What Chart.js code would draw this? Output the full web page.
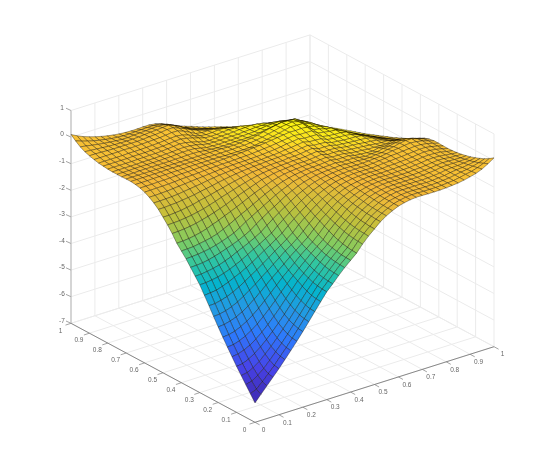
<!DOCTYPE html>
<html><head><meta charset="utf-8">
<script src="https://cdn.jsdelivr.net/npm/chart.js@4"></script>
<style>html,body{margin:0;padding:0;background:#fff}canvas{display:block}</style>
</head><body><canvas id="c" width="545" height="474"></canvas>
<script>
// Hand-estimated readings from the picture (silhouettes, mesh spacing, colour bands).
// The surface looks mirror-symmetric in x and y, so only y<=x is listed: row i = x index, entry j = y index.
// The part behind the ridge cannot be seen, so those entries are only rough guesses.
const axisTicks=[0,0.1,0.2,0.3,0.4,0.5,0.6,0.7,0.8,0.9,1];
const axisLabels=["0","0.1","0.2","0.3","0.4","0.5","0.6","0.7","0.8","0.9","1"];
const zTicks=[1,0,-1,-2,-3,-4,-5,-6,-7];
const gridCells=40;
const zRows=[
[-6.27],
[-6.02,-5.92],
[-5.77,-5.71,-5.56],
[-5.52,-5.48,-5.37,-5.21],
[-5.27,-5.24,-5.14,-5,-4.82],
[-5,-4.97,-4.89,-4.78,-4.62,-4.43],
[-4.73,-4.71,-4.64,-4.53,-4.39,-4.22,-4.01],
[-4.45,-4.43,-4.37,-4.27,-4.14,-3.98,-3.79,-3.58],
[-4.16,-4.14,-4.08,-4,-3.88,-3.73,-3.55,-3.36,-3.16],
[-3.86,-3.84,-3.79,-3.71,-3.6,-3.46,-3.3,-3.14,-2.96,-2.79],
[-3.55,-3.54,-3.49,-3.42,-3.32,-3.2,-3.06,-2.91,-2.77,-2.61,-2.45],
[-3.25,-3.23,-3.2,-3.13,-3.04,-2.93,-2.83,-2.71,-2.58,-2.43,-2.28,-2.14],
[-2.95,-2.94,-2.91,-2.87,-2.8,-2.72,-2.62,-2.51,-2.38,-2.25,-2.13,-1.99,-1.86],
[-2.72,-2.71,-2.68,-2.64,-2.58,-2.5,-2.41,-2.3,-2.2,-2.09,-1.97,-1.84,-1.66,-1.49],
[-2.48,-2.47,-2.45,-2.41,-2.35,-2.28,-2.2,-2.12,-2.03,-1.92,-1.8,-1.63,-1.48,-1.33,-1.19],
[-2.25,-2.24,-2.22,-2.19,-2.15,-2.09,-2.02,-1.94,-1.85,-1.72,-1.57,-1.44,-1.31,-1.18,-1.05,-0.92],
[-2.05,-2.04,-2.03,-1.99,-1.95,-1.9,-1.83,-1.73,-1.62,-1.5,-1.38,-1.27,-1.15,-1.03,-0.91,-0.81,-0.72],
[-1.85,-1.84,-1.82,-1.78,-1.73,-1.66,-1.57,-1.49,-1.39,-1.3,-1.2,-1.1,-0.99,-0.89,-0.8,-0.72,-0.64,-0.58],
[-1.58,-1.57,-1.55,-1.52,-1.48,-1.42,-1.36,-1.29,-1.21,-1.13,-1.03,-0.94,-0.86,-0.78,-0.7,-0.62,-0.58,-0.53,-0.5],
[-1.35,-1.34,-1.33,-1.3,-1.27,-1.22,-1.17,-1.1,-1.03,-0.95,-0.88,-0.81,-0.74,-0.68,-0.62,-0.57,-0.53,-0.5,-0.48,-0.46],
[-1.15,-1.15,-1.13,-1.11,-1.07,-1.03,-0.97,-0.92,-0.87,-0.81,-0.76,-0.7,-0.65,-0.6,-0.56,-0.52,-0.5,-0.48,-0.46,-0.45,-0.45],
[-0.95,-0.95,-0.93,-0.92,-0.89,-0.86,-0.83,-0.78,-0.74,-0.7,-0.65,-0.61,-0.57,-0.54,-0.51,-0.49,-0.47,-0.46,-0.44,-0.43,-0.42,-0.41],
[-0.8,-0.8,-0.79,-0.78,-0.76,-0.73,-0.7,-0.67,-0.64,-0.6,-0.57,-0.54,-0.52,-0.5,-0.48,-0.47,-0.46,-0.45,-0.45,-0.43,-0.42,-0.4,-0.37],
[-0.68,-0.68,-0.67,-0.66,-0.64,-0.62,-0.6,-0.58,-0.56,-0.54,-0.52,-0.5,-0.48,-0.47,-0.46,-0.45,-0.45,-0.44,-0.43,-0.42,-0.4,-0.38,-0.35,-0.31],
[-0.58,-0.58,-0.57,-0.57,-0.56,-0.55,-0.53,-0.52,-0.51,-0.5,-0.48,-0.47,-0.46,-0.45,-0.45,-0.44,-0.43,-0.42,-0.41,-0.39,-0.37,-0.35,-0.32,-0.29,-0.26],
[-0.52,-0.52,-0.52,-0.51,-0.51,-0.5,-0.49,-0.48,-0.48,-0.47,-0.46,-0.45,-0.45,-0.44,-0.43,-0.42,-0.41,-0.4,-0.38,-0.36,-0.34,-0.32,-0.29,-0.26,-0.23,-0.2],
[-0.48,-0.48,-0.48,-0.47,-0.47,-0.47,-0.46,-0.46,-0.46,-0.45,-0.45,-0.45,-0.45,-0.45,-0.45,-0.46,-0.46,-0.46,-0.46,-0.45,-0.43,-0.39,-0.35,-0.31,-0.26,-0.21,-0.15],
[-0.46,-0.46,-0.46,-0.46,-0.46,-0.46,-0.45,-0.45,-0.45,-0.45,-0.45,-0.45,-0.45,-0.46,-0.46,-0.46,-0.46,-0.46,-0.45,-0.45,-0.43,-0.4,-0.36,-0.31,-0.26,-0.2,-0.17,-0.14],
[-0.46,-0.46,-0.46,-0.46,-0.46,-0.46,-0.46,-0.46,-0.46,-0.46,-0.46,-0.46,-0.46,-0.46,-0.46,-0.46,-0.46,-0.47,-0.47,-0.46,-0.44,-0.42,-0.38,-0.32,-0.27,-0.22,-0.18,-0.2,-0.22],
[-0.47,-0.47,-0.47,-0.46,-0.46,-0.46,-0.46,-0.46,-0.46,-0.45,-0.45,-0.44,-0.44,-0.45,-0.48,-0.5,-0.52,-0.52,-0.52,-0.5,-0.51,-0.5,-0.48,-0.46,-0.42,-0.39,-0.36,-0.33,-0.34,-0.35],
[-0.47,-0.47,-0.47,-0.46,-0.46,-0.46,-0.46,-0.46,-0.45,-0.45,-0.43,-0.42,-0.42,-0.43,-0.48,-0.53,-0.54,-0.55,-0.54,-0.54,-0.53,-0.52,-0.51,-0.5,-0.46,-0.43,-0.42,-0.42,-0.45,-0.49,-0.55],
[-0.47,-0.47,-0.47,-0.47,-0.47,-0.46,-0.46,-0.46,-0.45,-0.44,-0.43,-0.41,-0.4,-0.42,-0.45,-0.51,-0.56,-0.56,-0.56,-0.55,-0.55,-0.55,-0.53,-0.52,-0.5,-0.5,-0.5,-0.52,-0.55,-0.6,-0.66,-0.75],
[-0.46,-0.46,-0.46,-0.46,-0.46,-0.45,-0.45,-0.44,-0.44,-0.43,-0.41,-0.39,-0.37,-0.39,-0.44,-0.5,-0.57,-0.59,-0.58,-0.57,-0.57,-0.56,-0.54,-0.53,-0.52,-0.54,-0.58,-0.64,-0.7,-0.76,-0.82,-0.9,-1],
[-0.44,-0.44,-0.44,-0.44,-0.44,-0.43,-0.43,-0.43,-0.42,-0.41,-0.4,-0.38,-0.36,-0.35,-0.39,-0.45,-0.52,-0.59,-0.6,-0.6,-0.58,-0.57,-0.57,-0.57,-0.62,-0.68,-0.74,-0.8,-0.85,-0.9,-0.96,-1.02,-1.1,-1.2],
[-0.42,-0.42,-0.42,-0.42,-0.42,-0.41,-0.41,-0.41,-0.4,-0.39,-0.38,-0.36,-0.34,-0.33,-0.36,-0.43,-0.53,-0.6,-0.63,-0.62,-0.6,-0.6,-0.65,-0.69,-0.76,-0.82,-0.87,-0.93,-0.98,-1.03,-1.08,-1.15,-1.23,-1.3,-1.37],
[-0.38,-0.38,-0.38,-0.38,-0.38,-0.37,-0.38,-0.38,-0.37,-0.36,-0.35,-0.34,-0.32,-0.29,-0.3,-0.38,-0.49,-0.61,-0.65,-0.65,-0.66,-0.7,-0.76,-0.82,-0.89,-0.95,-1.02,-1.08,-1.14,-1.2,-1.26,-1.33,-1.41,-1.48,-1.55,-1.6],
[-0.33,-0.33,-0.34,-0.35,-0.36,-0.36,-0.36,-0.36,-0.36,-0.35,-0.33,-0.32,-0.3,-0.27,-0.27,-0.36,-0.45,-0.56,-0.65,-0.72,-0.76,-0.8,-0.85,-0.91,-0.97,-1.04,-1.1,-1.17,-1.25,-1.32,-1.39,-1.45,-1.52,-1.58,-1.65,-1.73,-1.8],
[-0.27,-0.29,-0.31,-0.33,-0.35,-0.36,-0.37,-0.37,-0.37,-0.36,-0.34,-0.32,-0.31,-0.29,-0.27,-0.36,-0.47,-0.6,-0.72,-0.8,-0.85,-0.9,-0.96,-1.03,-1.08,-1.15,-1.22,-1.29,-1.36,-1.43,-1.5,-1.56,-1.63,-1.7,-1.76,-1.84,-1.92,-1.97],
[-0.18,-0.22,-0.26,-0.3,-0.33,-0.36,-0.38,-0.4,-0.4,-0.38,-0.37,-0.36,-0.34,-0.33,-0.35,-0.42,-0.52,-0.65,-0.76,-0.85,-0.92,-1,-1.07,-1.13,-1.2,-1.27,-1.34,-1.4,-1.47,-1.53,-1.6,-1.66,-1.72,-1.78,-1.85,-1.92,-1.98,-2.05,-2.1],
[-0.05,-0.13,-0.2,-0.26,-0.31,-0.35,-0.39,-0.41,-0.43,-0.43,-0.42,-0.41,-0.4,-0.4,-0.42,-0.5,-0.6,-0.72,-0.84,-0.92,-1,-1.08,-1.15,-1.22,-1.29,-1.36,-1.43,-1.5,-1.57,-1.63,-1.69,-1.75,-1.81,-1.87,-1.93,-2,-2.06,-2.13,-2.2,-2.26],
[0.1,-0.02,-0.12,-0.2,-0.27,-0.33,-0.38,-0.42,-0.45,-0.47,-0.48,-0.48,-0.47,-0.47,-0.5,-0.56,-0.65,-0.75,-0.85,-0.94,-1.02,-1.1,-1.18,-1.25,-1.32,-1.39,-1.46,-1.53,-1.6,-1.66,-1.72,-1.78,-1.84,-1.9,-1.96,-2.03,-2.1,-2.17,-2.24,-2.3,-2.36]
];
const colorRows=[
[2],
[3,4],
[5,6,7],
[8,9,10,12],
[11,11,12,14,16],
[14,14,15,16,18,21],
[17,17,18,19,20,23,26],
[21,21,22,23,25,27,30,33],
[25,25,26,27,29,31,33,36,38],
[29,29,30,31,32,34,36,39,41,44],
[33,33,34,35,36,38,40,42,44,47,49],
[37,37,38,38,40,41,43,45,47,50,52,55],
[41,41,42,42,43,45,47,49,51,53,55,58,60],
[45,45,46,46,47,49,50,52,54,56,59,61,63,66],
[49,49,50,50,51,52,54,55,57,60,62,64,66,68,70],
[53,53,54,54,55,56,58,59,61,63,65,67,69,70,72,73],
[57,57,57,58,59,60,61,63,65,66,68,69,71,72,74,75,76],
[61,61,61,62,63,64,65,66,68,70,71,72,73,74,76,77,78,79],
[65,65,65,66,66,67,68,69,70,71,72,73,74,75,77,78,79,80,80],
[68,68,68,69,69,70,71,71,72,73,74,75,76,77,78,79,80,80,81,81],
[71,71,71,71,72,72,73,73,74,75,75,76,77,78,79,79,80,80,81,81,82],
[73,73,73,73,74,74,74,75,76,76,77,78,78,79,80,80,81,81,82,83,84,85],
[75,75,75,75,75,76,76,77,77,78,78,79,79,80,80,81,81,82,83,84,85,87,90],
[77,77,77,77,77,78,78,78,79,79,80,80,80,81,81,81,82,83,84,85,86,88,90,92],
[79,79,79,79,79,79,79,80,80,80,80,81,81,81,82,82,83,84,85,87,88,90,92,94,95],
[80,80,80,80,80,80,80,80,80,81,81,81,82,82,83,84,85,86,87,88,90,91,93,95,96,97],
[80,80,80,80,80,80,80,81,81,81,81,81,82,82,83,84,85,86,87,89,90,92,93,94,95,97,98],
[80,80,80,80,80,81,81,81,81,81,81,82,82,82,83,84,85,86,88,89,91,92,94,95,96,97,98,99],
[80,80,81,81,81,81,81,81,81,81,81,82,82,83,84,85,87,88,89,91,92,93,95,96,97,98,98,99,100],
[81,81,81,81,81,81,81,81,81,81,82,82,83,83,84,86,87,89,90,92,93,94,95,96,97,98,99,99,100,100],
[81,81,81,81,81,81,81,81,81,82,82,82,83,83,85,86,88,89,91,92,93,94,95,96,97,98,98,99,100,100,100],
[82,82,82,82,82,82,82,82,82,82,82,82,83,84,85,87,88,90,91,92,94,95,96,97,97,98,98,99,99,100,100,100],
[82,82,82,82,82,82,82,82,82,82,82,83,83,84,85,86,88,89,91,92,94,95,96,96,97,98,98,99,99,100,100,100,100],
[82,82,82,82,82,82,82,82,82,82,83,83,83,84,85,86,87,89,90,92,93,94,95,96,97,97,98,98,99,99,100,100,100,100],
[83,83,83,83,83,83,83,83,83,83,83,83,84,84,85,86,87,88,90,91,93,94,95,96,96,97,98,98,99,99,100,100,100,100,100],
[83,83,83,83,83,83,83,83,83,83,83,84,84,84,85,85,86,87,88,90,91,92,94,95,96,96,97,98,98,99,99,100,100,100,100,100],
[83,83,83,83,83,83,83,83,83,83,83,84,84,84,85,85,86,87,88,89,91,92,93,94,95,96,96,97,97,98,98,99,99,100,100,100,100],
[83,83,83,83,83,83,83,83,83,83,83,83,84,84,84,85,85,86,87,88,89,90,92,93,94,95,96,96,97,97,98,98,99,99,100,100,100,100],
[83,83,83,83,83,83,83,83,83,83,83,83,83,84,84,84,85,85,86,87,88,89,90,91,93,94,95,96,96,97,97,98,98,99,99,100,100,100,100],
[83,83,83,83,83,83,83,83,83,83,83,83,83,83,84,84,84,85,85,86,87,88,89,90,91,92,93,94,95,96,96,97,97,98,98,99,99,100,100,100],
[83,83,83,83,83,83,83,83,83,83,83,83,83,83,83,84,84,84,85,85,86,87,88,89,90,91,92,93,94,95,96,96,97,97,98,98,99,99,100,100,100]
];
const palette=[[62,38,168],[71,67,233],[45,122,252],[38,150,230],[5,180,205],[50,198,160],[125,205,100],[190,192,60],[245,185,55],[252,208,45],[250,250,15]];

// View: where the three axes of the box land on the canvas scales.
const view={ox:255,oy:422.3,xx:239,xy:-75.6,yx:-184,yy:-99,zs:26.6,zMin:-7};
function project(x,y,z){return {x:view.ox+x*view.xx+y*view.yx,y:view.oy+x*view.xy+y*view.yy-(z-view.zMin)*view.zs};}
const zAt=(i,j)=>i>=j?zRows[i][j]:zRows[j][i];
const cAt=(i,j)=>i>=j?colorRows[i][j]:colorRows[j][i];
function mapColor(p){const t=Math.max(0,Math.min(.9999,p/100))*(palette.length-1),k=Math.floor(t),f=t-k,a=palette[k],b=palette[k+1];
  return `rgb(${a.map((v,n)=>Math.round(v+(b[n]-v)*f)).join(',')})`;}

const datasets=[];
function addLine(pts,color,width){datasets.push({type:'line',data:pts,borderColor:color,borderWidth:width,pointRadius:0,fill:false,tension:0,clip:false});}
// surface cells: nearest to the viewer first, because earlier datasets paint on top
for(let s=0;s<=2*gridCells-2;s++){
  for(let i=Math.max(0,s-gridCells+1);i<=Math.min(s,gridCells-1);i++){
    const j=s-i, u=i/gridCells,v=j/gridCells,d=1/gridCells;
    const mean=(cAt(i,j)+cAt(i+1,j)+cAt(i,j+1)+cAt(i+1,j+1))/4;
    datasets.push({type:'line',data:[project(u,v,zAt(i,j)),project(u+d,v,zAt(i+1,j)),project(u+d,v+d,zAt(i+1,j+1)),project(u,v+d,zAt(i,j+1)),project(u,v,zAt(i,j))],
      borderColor:'rgba(15,10,0,.62)',borderWidth:.6,backgroundColor:mapColor(mean),fill:'shape',pointRadius:0,tension:0,clip:false});
  }
}
const axisColor='#7d7d7d', zAxisColor='#b5b5b5', gridColor='#ebebeb';
const zLo=zTicks[zTicks.length-1], zHi=zTicks[0];
// axes and tick marks
addLine([project(0,1,zLo),project(0,1,zHi)],zAxisColor,1);
addLine([project(0,0,zLo),project(1,0,zLo)],axisColor,.9);
addLine([project(0,0,zLo),project(0,1,zLo)],axisColor,.9);
axisTicks.forEach(t=>{
  const a=project(t,0,zLo); addLine([a,{x:a.x+4.6,y:a.y+2.5}],axisColor,.7);
  const b=project(0,t,zLo); addLine([b,{x:b.x-5.5,y:b.y+1.8}],axisColor,.7);
});
zTicks.forEach(z=>{const a=project(0,1,z); addLine([a,{x:a.x-5,y:a.y-2.3}],axisColor,.7);});
// grid on the floor and on both back walls
axisTicks.forEach(t=>{
  addLine([project(t,0,zLo),project(t,1,zLo)],gridColor,1);
  addLine([project(0,t,zLo),project(1,t,zLo)],gridColor,1);
  addLine([project(t,1,zLo),project(t,1,zHi)],gridColor,1);
  addLine([project(1,t,zLo),project(1,t,zHi)],gridColor,1);
});
zTicks.forEach(z=>{
  addLine([project(0,1,z),project(1,1,z)],gridColor,1);
  addLine([project(1,1,z),project(1,0,z)],gridColor,1);
});

const tickText={id:'tickText',afterDraw(chart){
  const {ctx,scales:{x,y}}=chart;
  const put=(txt,p,dx,dy)=>ctx.fillText(txt,x.getPixelForValue(p.x)+dx,y.getPixelForValue(p.y)+dy);
  ctx.save();
  ctx.fillStyle='#666';ctx.font='6.5px "Liberation Sans Narrow","Liberation Sans",sans-serif';
  ctx.textAlign='center';ctx.textBaseline='middle';
  axisTicks.forEach((t,n)=>{
    put(axisLabels[n],project(t,0,zLo),8.5,8);
    put(axisLabels[n],project(0,t,zLo),-10.5,7.5);
  });
  zTicks.forEach(z=>put(String(z),project(0,1,z),-9,-2.5));
  ctx.restore();
}};

new Chart(document.getElementById('c'),{
  type:'scatter',
  data:{datasets},
  options:{responsive:false,animation:false,events:[],devicePixelRatio:1,
    layout:{padding:0},
    plugins:{legend:{display:false},tooltip:{enabled:false},title:{display:false}},
    scales:{x:{type:'linear',display:false,min:0,max:545},y:{type:'linear',display:false,min:0,max:474,reverse:true}}
  },
  plugins:[tickText]
});
</script></body></html>
